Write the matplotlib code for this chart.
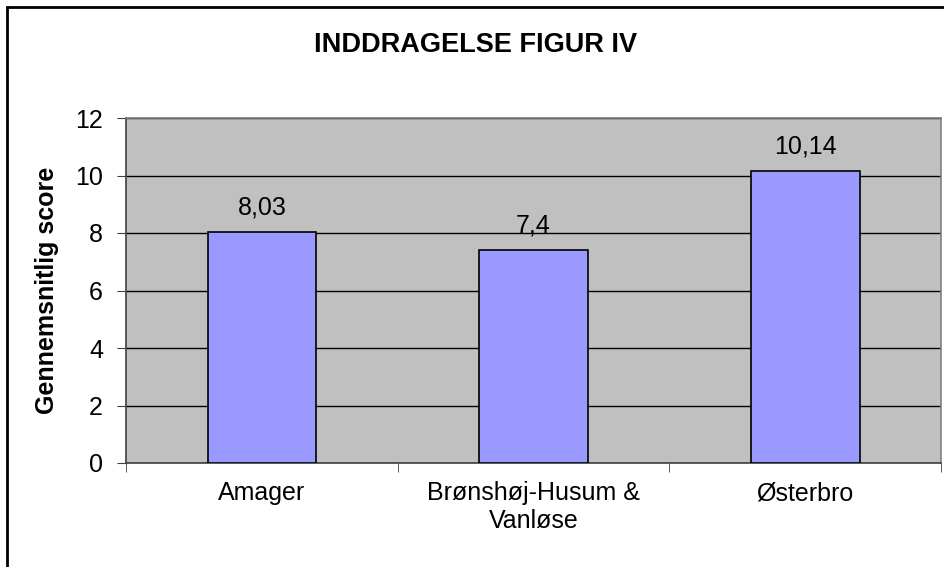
import matplotlib.pyplot as plt
import matplotlib.patches as patches

plt.rcParams['font.family'] = ['Liberation Sans', 'DejaVu Sans']

bydele = ["Amager", "Brønshøj-Husum &\nVanløse", "Østerbro"]
scores = [8.03, 7.4, 10.14]
score_labels = ["8,03", "7,4", "10,14"]
y_ticks = [0, 2, 4, 6, 8, 10, 12]

fig = plt.figure(figsize=(9.44, 5.67), dpi=100)
ax = fig.add_axes([126/944, 1 - 463/567, (941 - 126)/944, (463 - 118)/567])

ax.set_facecolor('#C0C0C0')
ax.set_axisbelow(True)
ax.yaxis.grid(True, color='black', linewidth=1)

x = range(len(bydele))
bars = ax.bar(x, scores, width=0.4, color='#9999FF', edgecolor='black', linewidth=1.2, zorder=3)

for b, lbl in zip(bars, score_labels):
    ax.annotate(lbl, (b.get_x() + b.get_width()/2, b.get_height()),
                xytext=(0, 13), textcoords='offset points',
                ha='center', va='baseline', fontsize=18)

ax.set_xlim(-0.5, 2.5)
ax.set_ylim(0, 12)
ax.set_yticks(y_ticks)
ax.set_yticklabels([str(t) for t in y_ticks], fontsize=18)
ax.set_xticks(list(x))
ax.set_xticklabels(bydele, fontsize=18)
ax.tick_params(axis='x', length=0, pad=13)
ax.set_xticks([-0.5, 0.5, 1.5, 2.5], minor=True)
ax.tick_params(axis='x', which='minor', length=6.5, color='#404040', direction='out')
ax.tick_params(axis='y', length=6.5, color='#404040', direction='out', pad=10)

for side in ['top', 'right']:
    ax.spines[side].set_color('#808080')
for side in ['left', 'bottom']:
    ax.spines[side].set_color('#404040')
for s in ax.spines.values():
    s.set_linewidth(1.2)

ax.set_ylabel("Gennemsnitlig score", fontsize=18, fontweight='bold', va='center')
ax.yaxis.set_label_coords((47 - 126)/815, 0.5)

fig.text(476/944, 1 - 45/567, "INDDRAGELSE FIGUR IV", fontsize=19.5, fontweight='bold',
         ha='center', va='center')

# ydre ramme (beskaaret i hoejre side og bund)
ramme = patches.Rectangle((7/944, -0.1), 1.0, 1 - 7/567 + 0.1, transform=fig.transFigure,
                          fill=False, edgecolor='black', linewidth=2)
fig.patches.append(ramme)

fig.savefig("out.png", dpi=100)
